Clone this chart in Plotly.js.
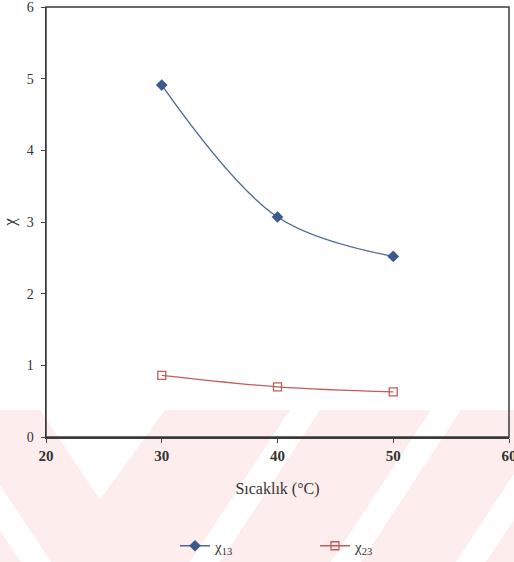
<!DOCTYPE html>
<html>
<head>
<meta charset="utf-8">
<script src="https://cdn.plot.ly/plotly-3.0.1.min.js"></script>
<style>
  html, body { margin: 0; padding: 0; background: #ffffff; }
  #chart { width: 514px; height: 562px; }
</style>
</head>
<body>
<div id="chart"></div>
<script>
// Temperature (°C) and interaction parameters
const temperature = [30, 40, 50];
const chi13 = [4.91, 3.07, 2.52];
const chi23 = [0.86, 0.70, 0.63];

const xTickVals = [20, 30, 40, 50, 60];
const yTickVals = [0, 1, 2, 3, 4, 5, 6];

const serif = 'Liberation Serif, Times New Roman, serif';

// plot-area geometry (pixels) used to place the background band pattern
const W = 514, H = 562;
const M = { l: 46, r: 5, t: 7, b: 125, autoexpand: false };
const pw = W - M.l - M.r, ph = H - M.t - M.b;
const px = x => ((x - M.l) / pw).toFixed(4);
const py = y => ((H - M.b - y) / ph).toFixed(4);
const poly = pts => 'M' + pts.map(p => px(p[0]) + ',' + py(p[1])).join(' L') + ' Z';

const pink = '#fdeded';
const bandShapes = [
  { pts: [[-10, 410], [530, 410], [530, 570], [-10, 570]], color: pink },
  { pts: [[40, 410], [165, 410], [100, 500]], color: '#ffffff' },
  { pts: [[-80, 410], [-50, 410], [51, 562], [21, 562]], color: '#ffffff' },
  { pts: [[290, 410], [320, 410], [220, 562], [190, 562]], color: '#ffffff' },
  { pts: [[431, 410], [461, 410], [361, 562], [331, 562]], color: '#ffffff' },
  { pts: [[556, 410], [586, 410], [486, 562], [456, 562]], color: '#ffffff' }
].map(s => ({
  type: 'path', xref: 'paper', yref: 'paper', layer: 'below',
  path: poly(s.pts), fillcolor: s.color, line: { width: 0 }
}));

// frame around the plot area
const frame = {
  type: 'rect', xref: 'paper', yref: 'paper', layer: 'above',
  x0: 0, x1: 1, y0: 0, y1: 1,
  line: { color: '#3a3a3a', width: 1.5 }, fillcolor: 'rgba(0,0,0,0)'
};

const traces = [
  {
    x: temperature, y: chi13, name: 'χ<sub>13</sub>',
    type: 'scatter', mode: 'lines+markers',
    line: { color: '#4a6898', width: 1.3, shape: 'spline', smoothing: 1 },
    marker: { symbol: 'diamond', size: 9, color: '#3b5a8a' }
  },
  {
    x: temperature, y: chi23, name: 'χ<sub>23</sub>',
    type: 'scatter', mode: 'lines+markers',
    line: { color: '#c25c5a', width: 1.3, shape: 'spline', smoothing: 1 },
    marker: { symbol: 'square-open', size: 8, color: '#c25c5a', line: { width: 1.3 } }
  }
];

const layout = {
  width: W, height: H,
  margin: M,
  paper_bgcolor: '#ffffff',
  plot_bgcolor: 'rgba(0,0,0,0)',
  font: { family: serif, color: '#333333' },
  showlegend: true,
  legend: {
    orientation: 'h', x: 0.2786, xanchor: 'left', y: -0.2535, yanchor: 'middle',
    font: { family: serif, size: 15, color: '#333333' },
    bgcolor: 'rgba(0,0,0,0)', entrywidth: 95
  },
  xaxis: {
    range: [20, 60], tickvals: xTickVals, ticks: 'outside', ticklen: 4,
    tickcolor: '#444', showline: true, linecolor: '#3a3a3a', linewidth: 1.5,
    showgrid: false, zeroline: false, ticklabeloverflow: 'allow',
    tickfont: { family: serif, size: 15, color: '#333', weight: 'bold' },
    title: { text: 'Sıcaklık (°C)', font: { family: serif, size: 16, color: '#333' }, standoff: 20 }
  },
  yaxis: {
    range: [0, 6], tickvals: yTickVals, ticks: 'outside', ticklen: 4,
    tickcolor: '#444', showline: true, linecolor: '#3a3a3a', linewidth: 1.5,
    showgrid: false, zeroline: false, ticklabeloverflow: 'allow', ticklabelstandoff: 4,
    tickfont: { family: serif, size: 14, color: '#333' },
    title: { text: 'χ', font: { family: serif, size: 17, color: '#333' }, standoff: 8 }
  },
  shapes: bandShapes.concat([frame])
};

Plotly.newPlot('chart', traces, layout, { displayModeBar: false, staticPlot: true });
</script>
</body>
</html>
